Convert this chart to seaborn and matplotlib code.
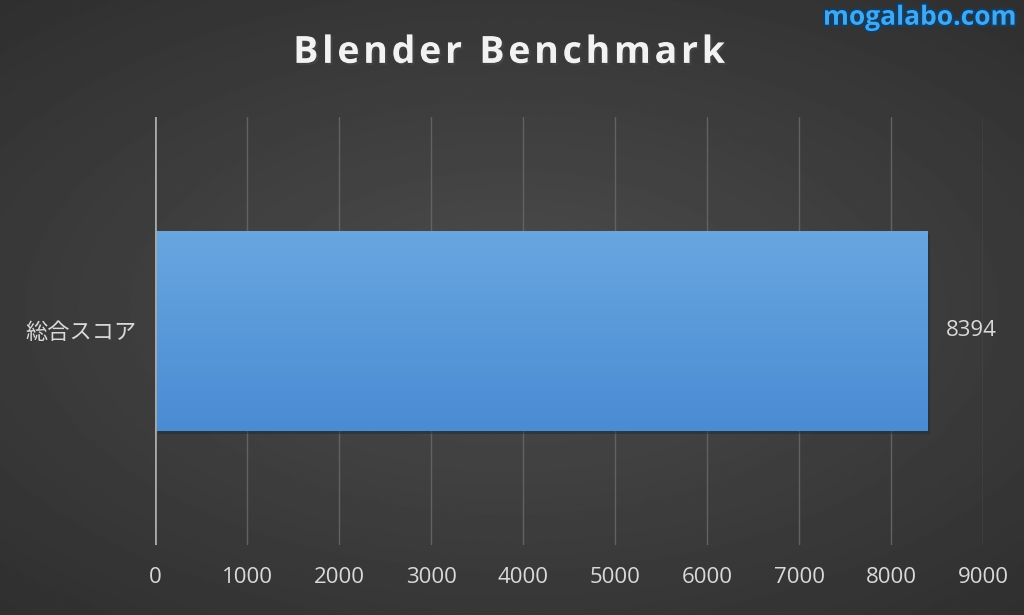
import numpy as np
import pandas as pd
import matplotlib
matplotlib.use("Agg")
import matplotlib.pyplot as plt
import matplotlib.patheffects as pe
from matplotlib.colors import LinearSegmentedColormap
import seaborn as sns

# chart data
categories = ["総合スコア"]
scores = [8394]
x_ticks = [0, 1000, 2000, 3000, 4000, 5000, 6000, 7000, 8000, 9000]
title = "Blender Benchmark"

df = pd.DataFrame({"item": categories, "score": scores})

sns.set_theme(style="dark")
plt.rcParams["font.family"] = ["Open Sans", "Noto Sans CJK JP", "DejaVu Sans"]

fig = plt.figure(figsize=(10.24, 6.15), dpi=100)

# dark radial background
bg = fig.add_axes([0, 0, 1, 1], zorder=-10)
yy, xx = np.mgrid[-1:1:400j, -1:1:600j]
r = np.sqrt((xx * 0.9) ** 2 + (yy * 1.0) ** 2)
bg.imshow(0.30 - 0.12 * np.clip(r, 0, 1.4) / 1.4, cmap="gray", vmin=0, vmax=1,
          aspect="auto", extent=[0, 1, 0, 1])
bg.axis("off")

ax = fig.add_axes([0.1514, 0.1138, 0.8086, 0.696])
ax.patch.set_alpha(0)
sns.barplot(data=df, x="score", y="item", orient="h", color="#5b9bd5",
            width=0.467, saturation=1, linewidth=0, ax=ax)

# gradient fill on the bar
bar = ax.patches[0]
bar.set_path_effects([pe.SimplePatchShadow(offset=(2, -2), alpha=0.5), pe.Normal()])
grad = np.linspace(0, 1, 100).reshape(-1, 1)
cm = LinearSegmentedColormap.from_list("b", ["#68a6e0", "#4a8cd3"])
bx, by = bar.get_x(), bar.get_y()
im = ax.imshow(grad, cmap=cm, aspect="auto", zorder=bar.get_zorder() + 0.1,
               extent=[bx, bx + bar.get_width(), by + bar.get_height(), by])
im.set_clip_path(bar)

ax.set_xlim(0, 9000)
ax.set_ylim(0.5, -0.5)
ax.set_xticks(x_ticks)
ax.set_xticklabels([str(t) for t in x_ticks])
ax.xaxis.grid(True, color="#626262", linewidth=1)
ax.yaxis.grid(False)
ax.set_axisbelow(True)
for s in ax.spines.values():
    s.set_visible(False)
ax.axvline(0, color="#a8a8a8", linewidth=2, zorder=5)
ax.tick_params(axis="x", length=0, pad=16, labelsize=16, labelcolor="#d9d9d9")
ax.tick_params(axis="y", length=0, pad=13, labelsize=16, labelcolor="#d9d9d9")
ax.set_xlabel("")
ax.set_ylabel("")

for i, v in enumerate(scores):
    ax.text(v + 205, i, str(v), va="center", ha="left", fontsize=16, color="#d9d9d9")

spaced = "\u200a".join(title)
fig.text(0.497, 0.914, spaced, ha="center", va="center", fontsize=27,
         fontweight="bold", color="#f2f2f2",
         family=["Open Sans", "DejaVu Sans"],
         path_effects=[pe.withSimplePatchShadow(offset=(1.5, -1.5), alpha=0.6)])
fig.text(0.898, 0.972, "mogalabo.com", ha="center", va="center", fontsize=19,
         fontweight="bold", color="#3ea8f2",
         path_effects=[pe.withStroke(linewidth=3, foreground="#123e66")])

fig.savefig("out.png", dpi=100)
